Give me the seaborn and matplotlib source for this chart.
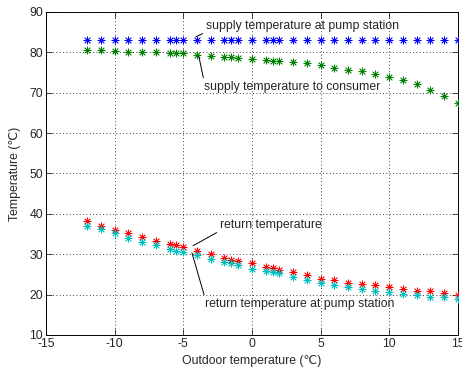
import numpy as np
import pandas as pd
import matplotlib
matplotlib.use('Agg')
from matplotlib import pyplot as plt
import seaborn as sns

# Outdoor temperature (x) and the four temperature series
outdoor = [-12, -11, -10, -9, -8, -7, -6, -5.5, -5, -4, -3, -2, -1.5, -1, 0, 1, 1.5, 2,
           3, 4, 5, 6, 7, 8, 9, 10, 11, 12, 13, 14, 15]
supply_pump = [83] * 31
supply_consumer = [80.6, 80.5, 80.4, 80.2, 80.0, 80.0, 79.9, 79.85, 79.8, 79.4, 79.1, 78.8,
                   78.8, 78.7, 78.3, 78.1, 77.95, 77.95, 77.5, 77.3, 76.8, 76.2, 75.7, 75.3,
                   74.65, 74.0, 73.1, 72.2, 70.7, 69.2, 67.4]
return_temp = [38.3, 37.1, 36.0, 35.2, 34.2, 33.3, 32.6, 32.2, 31.7, 30.7, 30.1, 29.0, 28.6,
               28.45, 27.8, 26.8, 26.6, 26.0, 25.7, 24.9, 23.9, 23.5, 23.0, 22.7, 22.3, 21.8,
               21.35, 21.0, 20.8, 20.5, 20.0]
return_pump = [37.1, 36.3, 35.2, 34.0, 33.0, 32.3, 31.3, 30.9, 30.5, 29.7, 28.9, 28.0, 27.8,
               27.4, 26.4, 25.9, 25.5, 25.3, 24.3, 23.7, 23.0, 22.4, 21.85, 21.4, 20.9, 20.6,
               20.2, 19.8, 19.5, 19.3, 19.0]

sns.set_style('ticks')
plt.rcParams['font.family'] = ['Liberation Sans', 'DejaVu Sans']
plt.rcParams['axes.unicode_minus'] = False
fs = 8.8

fig = plt.figure(figsize=(4.62, 3.70), dpi=100)
ax = fig.add_axes([0.0996, 0.0946, 0.8914, 0.873])

series = [(supply_pump, '#0000ff'), (supply_consumer, '#008000'),
          (return_temp, '#ff0000'), (return_pump, '#00bfbf')]
for vals, col in series:
    sns.scatterplot(x=outdoor, y=vals, marker=(8, 2, 0), s=26, color=col,
                    linewidth=0.6, ax=ax, legend=False, zorder=3)

ax.set_xlim(-15, 15)
ax.set_ylim(10, 90)
ax.set_xticks(range(-15, 16, 5))
ax.set_yticks(range(10, 91, 10))
ax.grid(True, linestyle=(0, (1, 3)), color='black', linewidth=0.6)
ax.tick_params(direction='in', length=4, width=0.6, top=True, right=True, labelsize=fs,
               pad=2)
for s in ax.spines.values():
    s.set_visible(True)
    s.set_linewidth(0.7)
    s.set_color('black')
ax.set_xlabel('Outdoor temperature (℃)', fontsize=fs, labelpad=4)
ax.set_ylabel('Temperature (℃)', fontsize=fs, labelpad=6)

arr = dict(arrowstyle='-', lw=0.7, color='black', shrinkA=0, shrinkB=0)
ax.annotate('supply temperature at pump station', xy=(-4.07, 83.9), xytext=(-3.35, 86.5),
            va='center', ha='left', fontsize=fs, arrowprops=dict(arr, relpos=(0, 0)))
ax.annotate('supply temperature to consumer', xy=(-3.86, 78.9), xytext=(-3.49, 71.4),
            va='center', ha='left', fontsize=fs, arrowprops=dict(arr, relpos=(0, 1)))
ax.annotate('return temperature', xy=(-4.29, 32.1), xytext=(-2.33, 37.3),
            va='center', ha='left', fontsize=fs, arrowprops=dict(arr, relpos=(0, 0)))
ax.annotate('return temperature at pump station', xy=(-4.37, 30.35), xytext=(-3.42, 17.7),
            va='center', ha='left', fontsize=fs, arrowprops=dict(arr, relpos=(0, 1)))

fig.savefig('out.png', dpi=100)
